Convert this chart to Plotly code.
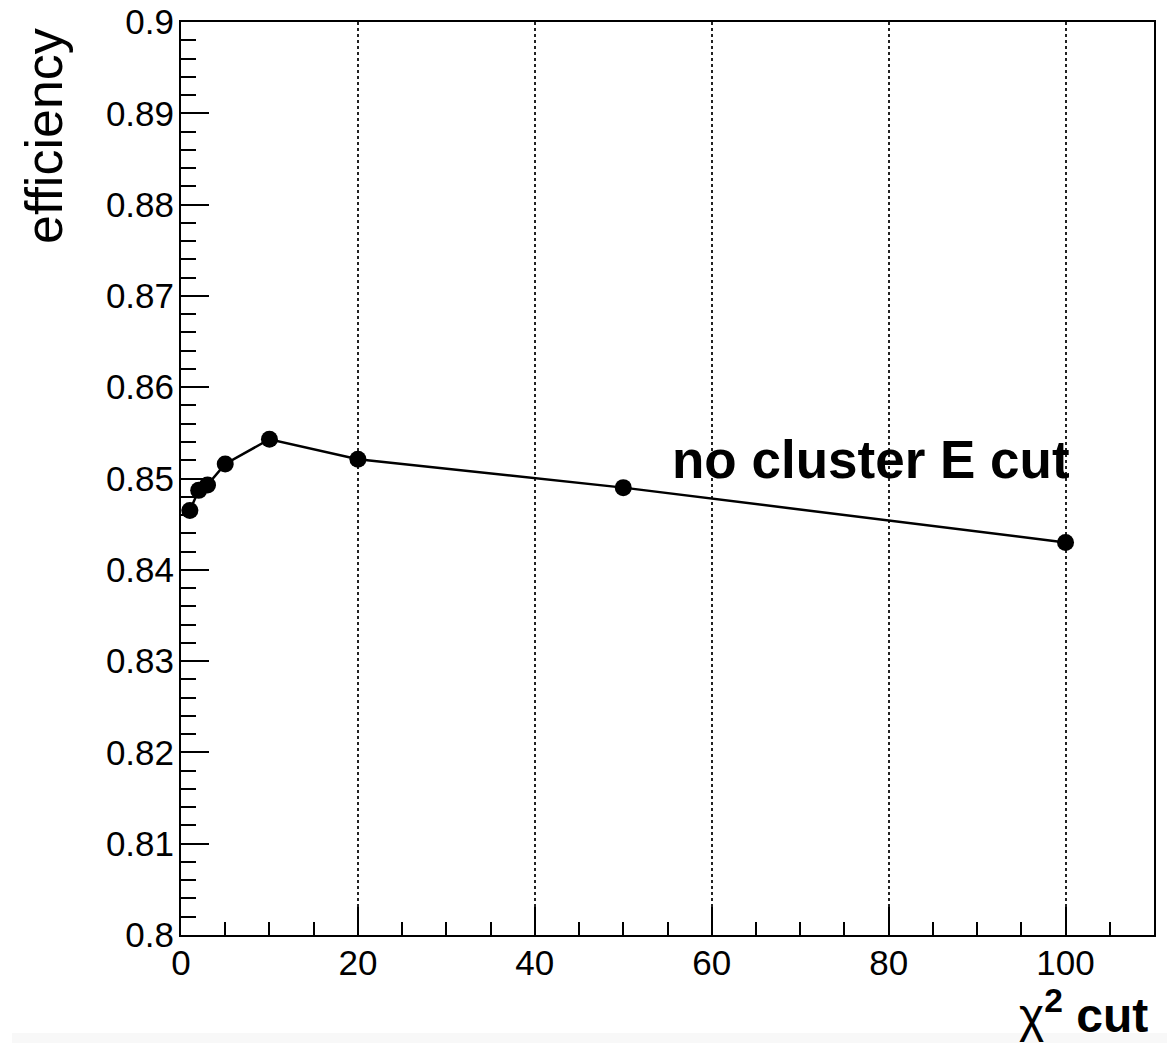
import plotly.graph_objects as go

# chi2 cut values and the resulting efficiency
chi2_cut = [1, 2, 3, 5, 10, 20, 50, 100]
efficiency = [0.8465, 0.8487, 0.8493, 0.8516, 0.8543, 0.8521, 0.8490, 0.8430]

x_ticks = [0, 20, 40, 60, 80, 100]
x_tick_text = ["0", "20", "40", "60", "80", "100"]
y_ticks = [0.80, 0.81, 0.82, 0.83, 0.84, 0.85, 0.86, 0.87, 0.88, 0.89, 0.90]
y_tick_text = ["0.8", "0.81", "0.82", "0.83", "0.84", "0.85", "0.86",
               "0.87", "0.88", "0.89", "0.9"]

FONT = "Liberation Sans, Arial, Helvetica, sans-serif"

fig = go.Figure()
fig.add_trace(go.Scatter(
    x=chi2_cut, y=efficiency, mode="lines+markers",
    line=dict(color="black", width=2.5),
    marker=dict(color="black", size=17, symbol="circle"),
    showlegend=False,
))

W, H = 1167, 1043
L, R, T, B = 181, 1154, 22, 935


def px_x(p):
    return (p - L) / (R - L)


def px_y(p):
    return (B - p) / (B - T)


fig.update_layout(
    width=W, height=H,
    margin=dict(l=L, r=W - R, t=T, b=H - B),
    paper_bgcolor="white", plot_bgcolor="white",
    font=dict(family=FONT, color="black"),
    xaxis=dict(
        range=[0, 110], tickvals=x_ticks, ticktext=x_tick_text,
        ticks="inside", ticklen=28, tickwidth=2, tickcolor="black",
        tickfont=dict(size=35), ticklabelstandoff=-4, automargin=False,
        minor=dict(dtick=5, ticks="inside", ticklen=13, tickwidth=2,
                   tickcolor="black", showgrid=False),
        showline=True, linecolor="black", linewidth=2, mirror=True,
        showgrid=True, gridcolor="#222222", gridwidth=1.5, griddash="dot",
        zeroline=False,
    ),
    yaxis=dict(
        range=[0.8, 0.9], tickvals=y_ticks, ticktext=y_tick_text,
        ticks="inside", ticklen=28, tickwidth=2, tickcolor="black",
        tickfont=dict(size=35), ticklabelstandoff=-2, automargin=False,
        minor=dict(dtick=0.002, ticks="inside", ticklen=15, tickwidth=2,
                   tickcolor="black", showgrid=False),
        showline=True, linecolor="black", linewidth=2, mirror=True,
        showgrid=False, zeroline=False,
    ),
    shapes=[
        # faint strip along the bottom edge of the canvas
        dict(type="rect", xref="paper", yref="paper",
             x0=px_x(12), x1=px_x(W), y0=px_y(H), y1=px_y(1033),
             fillcolor="#f8f8f8", line=dict(width=0), layer="below"),
    ],
    annotations=[
        dict(text="<b>no cluster E cut</b>", xref="x", yref="y",
             x=55.3, y=0.8521, xanchor="left", yanchor="middle",
             showarrow=False, font=dict(size=53, family=FONT)),
        dict(text="efficiency", xref="paper", yref="paper",
             x=px_x(44), y=px_y(26), xanchor="center", yanchor="top",
             textangle=-90, showarrow=False, font=dict(size=52, family=FONT)),
        dict(text="χ<sup><b>2</b></sup> <b>cut</b>", xref="paper", yref="paper",
             x=px_x(1150), y=px_y(1012), xanchor="right", yanchor="middle",
             showarrow=False, font=dict(size=48, family=FONT)),
    ],
)

fig.write_html("out.html")
